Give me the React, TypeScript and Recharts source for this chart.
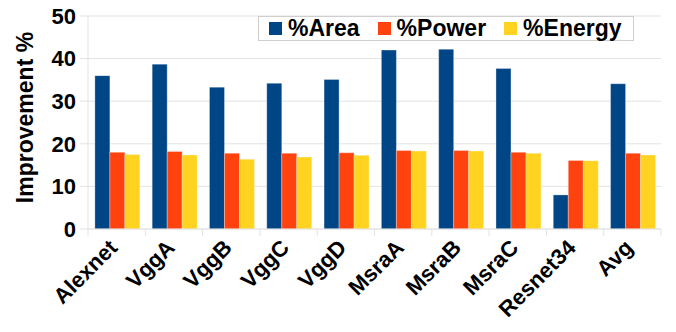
import { BarChart, Bar, XAxis, YAxis, CartesianGrid } from 'recharts';

const categories = ['Alexnet', 'VggA', 'VggB', 'VggC', 'VggD', 'MsraA', 'MsraB', 'MsraC', 'Resnet34', 'Avg'];
const areaValues = [36.0, 38.7, 33.3, 34.2, 35.1, 42.0, 42.2, 37.7, 8.0, 34.1];
const powerValues = [18.0, 18.2, 17.8, 17.8, 17.9, 18.4, 18.4, 18.0, 16.1, 17.8];
const energyValues = [17.5, 17.4, 16.4, 16.9, 17.3, 18.3, 18.3, 17.8, 16.0, 17.4];
const yTicks = [0, 10, 20, 30, 40, 50];

const series = [
  { key: 'area', name: '%Area', color: '#004586' },
  { key: 'power', name: '%Power', color: '#ff420e' },
  { key: 'energy', name: '%Energy', color: '#ffd320' },
];

const data = categories.map((name, i) => ({
  name,
  area: areaValues[i],
  power: powerValues[i],
  energy: energyValues[i],
}));

const FONT = '"Liberation Sans", Arial, sans-serif';
const GRID = '#e3e3e3';
const W = 676;
const H = 332;
const MARGIN = { top: 16, right: 15, bottom: 0, left: 0 };
const Y_WIDTH = 88;
const X_HEIGHT = 103;
const BAND = (W - MARGIN.left - MARGIN.right - Y_WIDTH) / categories.length;

function XTick(props: any) {
  const { x, y, payload, index } = props;
  const left = x - BAND / 2;
  const right = x + BAND / 2;
  const tx = x + 2;
  const ty = y + 20;
  return (
    <g>
      <line x1={left} y1={y} x2={left} y2={y + 7} stroke={GRID} />
      {index === categories.length - 1 && <line x1={right} y1={y} x2={right} y2={y + 7} stroke={GRID} />}
      <text
        x={tx}
        y={ty}
        textAnchor="end"
        transform={`rotate(-45, ${tx}, ${ty})`}
        fontFamily={FONT}
        fontWeight="bold"
        fontSize={22}
        fill="#000"
      >
        {payload.value}
      </text>
    </g>
  );
}

function LegendBox() {
  return (
    <div
      style={{
        position: 'absolute',
        left: 258,
        top: 16,
        height: 25,
        display: 'flex',
        alignItems: 'center',
        padding: '0 11px 0 10px',
        background: '#fff',
        border: '1px solid #cfcfcf',
        boxSizing: 'border-box',
        fontFamily: FONT,
        fontWeight: 'bold',
        fontSize: 23,
        color: '#000',
        whiteSpace: 'nowrap',
      }}
    >
      {series.map((s, i) => (
        <div key={s.key} style={{ display: 'flex', alignItems: 'center', marginLeft: i === 0 ? 0 : 18 }}>
          <span style={{ width: 13, height: 13, background: s.color, display: 'inline-block', marginRight: 6 }} />
          <span style={{ lineHeight: '25px' }}>{s.name}</span>
        </div>
      ))}
    </div>
  );
}

export default function App() {
  return (
    <div style={{ position: 'absolute', left: 0, top: 0, width: W, height: H, background: '#fff' }}>
      <BarChart width={W} height={H} data={data} margin={MARGIN} barCategoryGap="12%" barGap={0}>
        <CartesianGrid vertical={false} stroke={GRID} />
        <XAxis
          dataKey="name"
          height={X_HEIGHT}
          interval={0}
          tickLine={false}
          tickSize={0}
          tickMargin={0}
          axisLine={{ stroke: GRID }}
          tick={<XTick />}
        />
        <YAxis
          width={Y_WIDTH}
          domain={[0, 50]}
          ticks={yTicks}
          interval={0}
          tickSize={8}
          tickMargin={4}
          axisLine={{ stroke: GRID }}
          tickLine={{ stroke: GRID }}
          tick={{ fontFamily: FONT, fontWeight: 'bold', fontSize: 22, fill: '#000' }}
          label={{
            value: 'Improvement %',
            angle: -90,
            position: 'center',
            dx: -19,
            dy: -5,
            style: { fontFamily: FONT, fontSize: 23, fontWeight: 'bold', fill: '#000', textAnchor: 'middle' },
          }}
        />
        {series.map((s) => (
          <Bar
            key={s.key}
            dataKey={s.key}
            name={s.name}
            fill={s.color}
            stroke="rgba(255,255,255,0.3)"
            strokeWidth={1}
            isAnimationActive={false}
          />
        ))}
      </BarChart>
      <LegendBox />
    </div>
  );
}
